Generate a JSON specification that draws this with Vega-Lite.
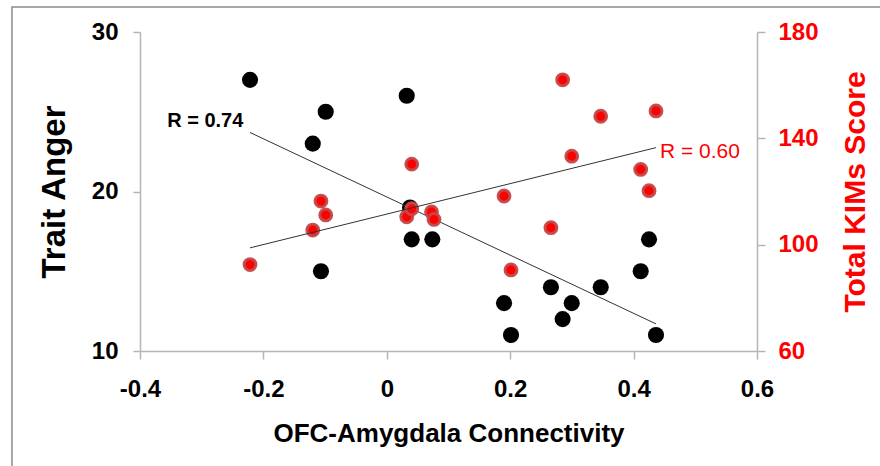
{
  "$schema": "https://vega.github.io/schema/vega-lite/v6.json",
  "width": 617,
  "height": 319,
  "autosize": {"type": "none"},
  "padding": {"left": 140, "top": 32, "right": 123, "bottom": 115},
  "background": "white",
  "config": {
    "view": {"stroke": null},
    "font": "Liberation Sans",
    "axis": {
      "grid": false,
      "domainColor": "#b5b5b5",
      "domainWidth": 1.5,
      "tickColor": "#b5b5b5",
      "tickWidth": 1.5,
      "tickSize": 8,
      "labelFont": "Liberation Sans",
      "labelFontWeight": "bold",
      "labelFontSize": 24,
      "labelFlush": false,
      "labelOverlap": false,
      "titleFont": "Liberation Sans",
      "titleFontWeight": "bold"
    }
  },
  "datasets": {
    "anger": [
      {"conn": -0.2217, "anger": 27},
      {"conn": -0.099, "anger": 25},
      {"conn": -0.120, "anger": 23},
      {"conn": -0.1067, "anger": 15},
      {"conn": 0.0323, "anger": 26},
      {"conn": 0.0376, "anger": 19},
      {"conn": 0.0404, "anger": 17},
      {"conn": 0.0738, "anger": 17},
      {"conn": 0.190, "anger": 13},
      {"conn": 0.2013, "anger": 11},
      {"conn": 0.266, "anger": 14},
      {"conn": 0.285, "anger": 12},
      {"conn": 0.2997, "anger": 13},
      {"conn": 0.3467, "anger": 14},
      {"conn": 0.4115, "anger": 15},
      {"conn": 0.425, "anger": 17},
      {"conn": 0.4363, "anger": 11}
    ],
    "kims": [
      {"conn": -0.2217, "kims": 92.5},
      {"conn": -0.120, "kims": 105.5},
      {"conn": -0.1067, "kims": 116.4},
      {"conn": -0.099, "kims": 111.2},
      {"conn": 0.0323, "kims": 110.5},
      {"conn": 0.0404, "kims": 113.5},
      {"conn": 0.0404, "kims": 130.3},
      {"conn": 0.0725, "kims": 112.3},
      {"conn": 0.0765, "kims": 109.5},
      {"conn": 0.190, "kims": 118.3},
      {"conn": 0.2013, "kims": 90.5},
      {"conn": 0.266, "kims": 106.4},
      {"conn": 0.285, "kims": 162},
      {"conn": 0.2997, "kims": 133.3},
      {"conn": 0.3467, "kims": 148.3},
      {"conn": 0.4115, "kims": 128.3},
      {"conn": 0.425, "kims": 120.3},
      {"conn": 0.4363, "kims": 150.3}
    ],
    "angerFit": [
      {"conn": -0.2217, "anger": 23.7},
      {"conn": 0.4363, "anger": 11.7}
    ],
    "kimsFit": [
      {"conn": -0.2217, "kims": 98.8},
      {"conn": 0.4363, "kims": 136.5}
    ],
    "one": [{}]
  },
  "layer": [
    {
      "layer": [
        {
          "data": {"name": "one"},
          "mark": {"type": "rect", "fill": null, "stroke": "#8c8c8c", "strokeWidth": 1.5, "clip": false},
          "encoding": {
            "x": {"datum": -0.6075, "type": "quantitative", "scale": {"domain": [-0.4, 0.6], "nice": false, "zero": false}},
            "x2": {"datum": 0.9},
            "y": {"datum": 31.57, "type": "quantitative", "scale": {"domain": [10, 30], "nice": false, "zero": false}},
            "y2": {"datum": 2}
          }
        },
        {
          "data": {"name": "anger"},
          "mark": {"type": "circle", "color": "black", "opacity": 1, "size": 260},
          "encoding": {
            "x": {
              "field": "conn", "type": "quantitative",
              "scale": {"domain": [-0.4, 0.6], "nice": false, "zero": false},
              "axis": {
                "title": "OFC-Amygdala Connectivity",
                "titleFontSize": 26,
                "titleColor": "black",
                "titlePadding": 19,
                "values": [-0.4, -0.2, 0, 0.2, 0.4, 0.6],
                "labelExpr": "datum.value < 0 ? '-' + format(-datum.value, '.1f') : (datum.value == 0 ? '0' : format(datum.value, '.1f'))",
                "labelColor": "black",
                "labelPadding": 18
              }
            },
            "y": {
              "field": "anger", "type": "quantitative",
              "scale": {"domain": [10, 30], "nice": false, "zero": false},
              "axis": {
                "title": "Trait Anger",
                "titleFontSize": 33,
                "titleColor": "black",
                "titlePadding": 20,
                "values": [10, 20, 30],
                "labelColor": "black",
                "labelPadding": 15,
                "tickSize": 7
              }
            }
          }
        },
        {
          "data": {"name": "angerFit"},
          "mark": {"type": "line", "color": "#333333", "strokeWidth": 1},
          "encoding": {
            "x": {"field": "conn", "type": "quantitative"},
            "y": {"field": "anger", "type": "quantitative"}
          }
        },
        {
          "data": {"name": "one"},
          "mark": {"type": "text", "text": "R = 0.74", "align": "left", "baseline": "alphabetic", "font": "Liberation Sans", "fontWeight": "bold", "fontSize": 20, "color": "black"},
          "encoding": {
            "x": {"datum": -0.356, "type": "quantitative"},
            "y": {"datum": 24.04, "type": "quantitative"}
          }
        }
      ]
    },
    {
      "layer": [
        {
          "data": {"name": "kims"},
          "mark": {"type": "circle", "fill": "#ff0000", "stroke": "#c44848", "strokeWidth": 3, "opacity": 1, "strokeOpacity": 0.95, "size": 140},
          "encoding": {
            "x": {"field": "conn", "type": "quantitative", "scale": {"domain": [-0.4, 0.6], "nice": false, "zero": false}},
            "y": {
              "field": "kims", "type": "quantitative",
              "scale": {"domain": [60, 180], "nice": false, "zero": false},
              "axis": {
                "orient": "right",
                "title": "Total KIMs Score",
                "titleFontSize": 30,
                "titleColor": "#ff0000",
                "titleAngle": 270,
                "titleBaseline": "top",
                "titlePadding": 22,
                "values": [60, 100, 140, 180],
                "labelColor": "#ff0000",
                "labelPadding": 13
              }
            }
          }
        },
        {
          "data": {"name": "kimsFit"},
          "mark": {"type": "line", "color": "#333333", "strokeWidth": 1},
          "encoding": {
            "x": {"field": "conn", "type": "quantitative"},
            "y": {"field": "kims", "type": "quantitative"}
          }
        },
        {
          "data": {"name": "one"},
          "mark": {"type": "text", "text": "R = 0.60", "align": "left", "baseline": "alphabetic", "font": "Liberation Sans", "fontWeight": "normal", "fontSize": 21, "color": "#ff0000"},
          "encoding": {
            "x": {"datum": 0.4428, "type": "quantitative"},
            "y": {"datum": 132.6, "type": "quantitative"}
          }
        }
      ]
    }
  ],
  "resolve": {"scale": {"y": "independent"}}
}
